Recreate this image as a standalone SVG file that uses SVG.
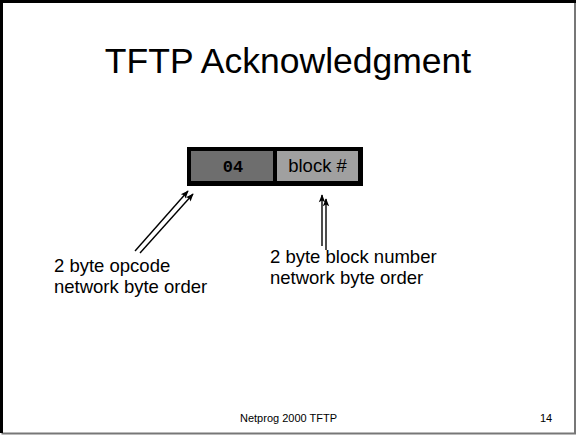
<svg xmlns="http://www.w3.org/2000/svg" width="576" height="435" viewBox="0 0 576 435">
<defs>
<style>
.t{font-family:"Liberation Sans",Arial,sans-serif;fill:#000}
.c{stroke:#000;stroke-width:1.4;fill:none;marker-end:url(#ah)}
</style>
<marker id="ah" viewBox="0 0 10 10" refX="9" refY="5" markerWidth="9" markerHeight="8" markerUnits="userSpaceOnUse" orient="auto"><path d="M0,1 L10,5 L0,9 L2,5 z" fill="#000"/></marker>
</defs>
<rect x="0" y="0" width="576" height="435" fill="#fff"/>
<path d="M575,2 V433.5 H1.5" fill="none" stroke="#777" stroke-width="2"/>
<path d="M1.5,433 V1.5 H576" fill="none" stroke="#000" stroke-width="3"/>
<text class="t" x="288" y="73" font-size="35.5" text-anchor="middle">TFTP Acknowledgment</text>
<g id="packet">
<rect x="187" y="147" width="176" height="39" fill="#000"/>
<g id="opcode"><rect x="191" y="151" width="82" height="30" fill="#6e6e6e"/>
<text x="233" y="172" font-family="'Liberation Mono','Courier New',monospace" font-weight="bold" font-size="17" text-anchor="middle">04</text></g>
<g id="block"><rect x="277" y="151" width="81" height="30" fill="#a0a0a0"/>
<text class="t" x="317.5" y="172" font-size="18.5" text-anchor="middle">block #</text></g>
</g>
<g id="connectors">
<line class="c" x1="135" y1="251" x2="188" y2="191"/>
<line class="c" x1="140" y1="253" x2="193" y2="194"/>
<line class="c" x1="322" y1="246" x2="322" y2="195"/>
<line class="c" x1="326" y1="250" x2="326" y2="199"/>
</g>
<g id="label1"><text class="t" x="54" y="272" font-size="18.5">2 byte opcode</text>
<text class="t" x="54" y="293" font-size="18.5">network byte order</text></g>
<g id="label2"><text class="t" x="270" y="263" font-size="18.5">2 byte block number</text>
<text class="t" x="270" y="284" font-size="18.5">network byte order</text></g>
<text class="t" x="240" y="422" font-size="11">Netprog 2000 TFTP</text>
<text class="t" x="540" y="422" font-size="11">14</text>
</svg>
